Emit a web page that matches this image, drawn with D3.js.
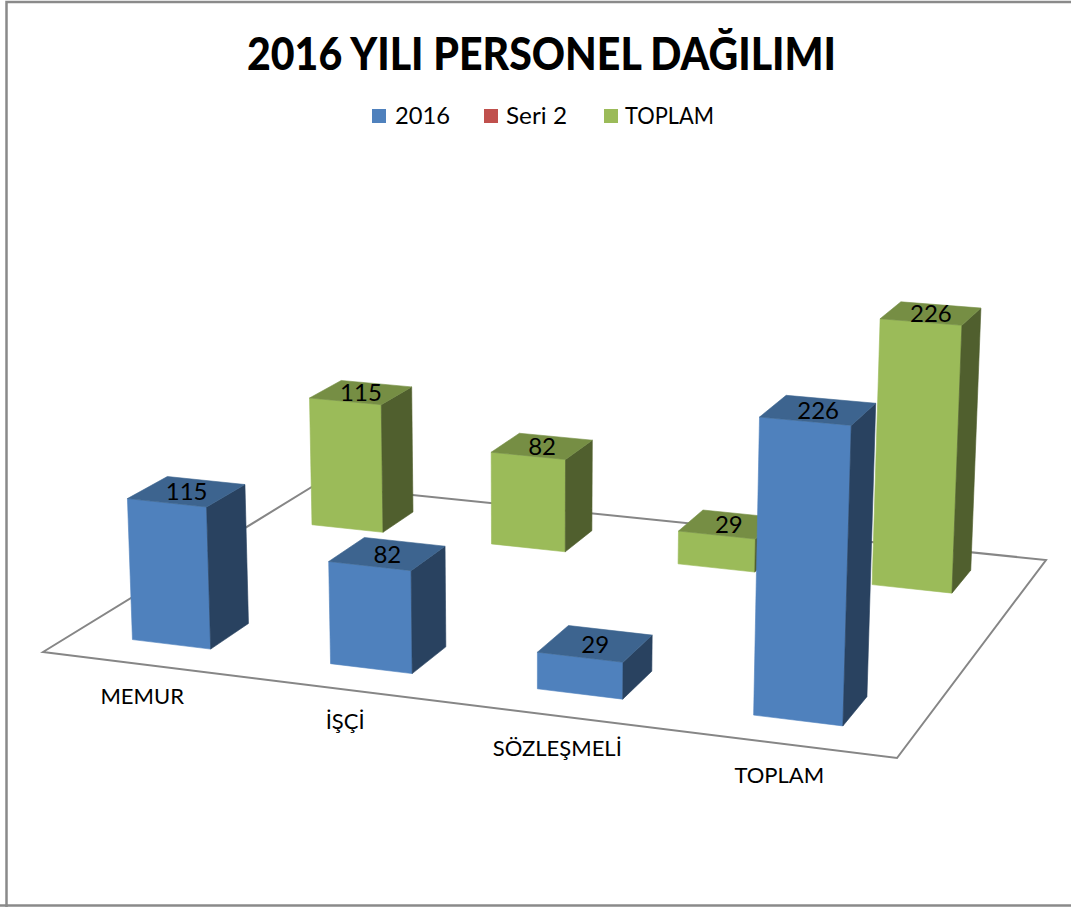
<!DOCTYPE html>
<html><head><meta charset="utf-8">
<script src="https://cdn.jsdelivr.net/npm/d3@7/dist/d3.min.js"></script>
<style>html,body{margin:0;padding:0;background:#fff;overflow:hidden}svg{display:block}text{font-family:Lato,"Noto Sans",sans-serif;fill:#000}</style>
</head><body><svg id="c" width="1071" height="907"></svg>
<script>
const titleText = "2016 YILI PERSONEL DAĞILIMI";
const categories = ["MEMUR", "İŞÇİ", "SÖZLEŞMELİ", "TOPLAM"];
const seriesNames = ["2016", "Seri 2", "TOPLAM"];
const values2016 = [115, 82, 29, 226];
const valuesSeri2 = [null, null, null, null];
const valuesToplam = [115, 82, 29, 226];
const seriesValues = [values2016, valuesSeri2, valuesToplam];
const frontColors = ["#4F81BD", "#C0504D", "#9BBB59"];
const sideColors = ["#294260", "#622826", "#505F2E"];
const topColors = ["#3D648F", "#93403D", "#768E44"];

// floor quad in page pixels: front-left, front-right, back-right, back-left
const floorQuad = [[43,652],[897,758],[1046,560],[315,485]];
const vertVanish = [533,11863];

// solve unit square -> quad homography
const [p0,p1,p2,p3] = floorQuad;
const dx1=p1[0]-p2[0], dx2=p3[0]-p2[0], sx=p0[0]-p1[0]+p2[0]-p3[0];
const dy1=p1[1]-p2[1], dy2=p3[1]-p2[1], sy=p0[1]-p1[1]+p2[1]-p3[1];
const den=dx1*dy2-dx2*dy1;
const g=(sx*dy2-dx2*sy)/den, h=(dx1*sy-sx*dy1)/den;
const a=p1[0]-p0[0]+g*p1[0], b=p3[0]-p0[0]+h*p3[0];
const d=p1[1]-p0[1]+g*p1[1], e=p3[1]-p0[1]+h*p3[1];

const xBand = d3.scaleBand().domain(d3.range(categories.length)).range([0,0.996]).paddingInner(0.6).paddingOuter(0.3);
const depthBand = d3.scaleBand().domain(d3.range(seriesNames.length)).range([0,1]).paddingInner(0.6).paddingOuter(0.3);
const zScale = d3.scaleLinear().domain([0,250]).range([0,-0.0273]);

function project(u,v,value){
  const k=zScale(value);
  const w=1+g*u+h*v+k;
  return [(a*u+b*v+p0[0]+k*vertVanish[0])/w,(d*u+e*v+p0[1]+k*vertVanish[1])/w];
}

const svg=d3.select("#c");
const poly=d3.line();
// chart frame
svg.append("path").attr("d","M6.5,910V2H1080M0,905.5H1080").attr("fill","none").attr("stroke","#8a8a8a").attr("stroke-width",2.5);

// title
svg.append("text").attr("x",541.5).attr("y",70).attr("text-anchor","middle")
  .attr("font-size",45).attr("font-weight",900).attr("textLength",589).attr("lengthAdjust","spacingAndGlyphs").text(titleText);

// legend
const legendSwatchX=[372,484,604], legendTextX=[395,506,625], legendTextW=[55,61,89];
const legend=svg.append("g");
seriesNames.forEach((s,i)=>{
  legend.append("rect").attr("x",legendSwatchX[i]).attr("y",109).attr("width",14).attr("height",14).attr("fill",frontColors[i]);
  legend.append("text").attr("x",legendTextX[i]).attr("y",124).attr("font-size",23).attr("textLength",legendTextW[i]).attr("lengthAdjust","spacingAndGlyphs").text(s);
});

// floor
svg.append("path").attr("d",poly([[0,0],[1,0],[1,1],[0,1]].map(c=>project(c[0],c[1],0)))+"Z")
  .attr("fill","none").attr("stroke","#868686").attr("stroke-width",2).attr("stroke-linejoin","miter");

// bars, back row first
const bars=svg.append("g");
d3.range(seriesNames.length).reverse().forEach(si=>{
  seriesValues[si].forEach((val,ci)=>{
    if(val==null) return;
    const u0=xBand(ci),u1=u0+xBand.bandwidth(),v0=depthBand(si),v1=v0+depthBand.bandwidth();
    const faces=[
      [[u0,v0,0],[u1,v0,0],[u1,v0,val],[u0,v0,val],frontColors[si]],
      [[u1,v0,0],[u1,v1,0],[u1,v1,val],[u1,v0,val],sideColors[si]],
      [[u0,v0,val],[u1,v0,val],[u1,v1,val],[u0,v1,val],topColors[si]]
    ];
    faces.forEach(f=>{
      bars.append("path").attr("d",poly(f.slice(0,4).map(c=>project(...c)))+"Z")
        .attr("fill",f[4]).attr("stroke",f[4]).attr("stroke-width",0.6).attr("stroke-linejoin","round");
    });
    const c=project((u0+u1)/2,(v0+v1)/2,val);
    bars.append("text").attr("x",c[0]).attr("y",c[1]+9).attr("text-anchor","middle").attr("font-size",24).text(val);
  });
});

// category labels
categories.forEach((t,ci)=>{
  const c=project(xBand(ci)+xBand.bandwidth()/2,0,0);
  svg.append("text").attr("x",c[0]+1).attr("y",c[1]+40).attr("text-anchor","middle").attr("font-size",22).text(t);
});
</script></body></html>
